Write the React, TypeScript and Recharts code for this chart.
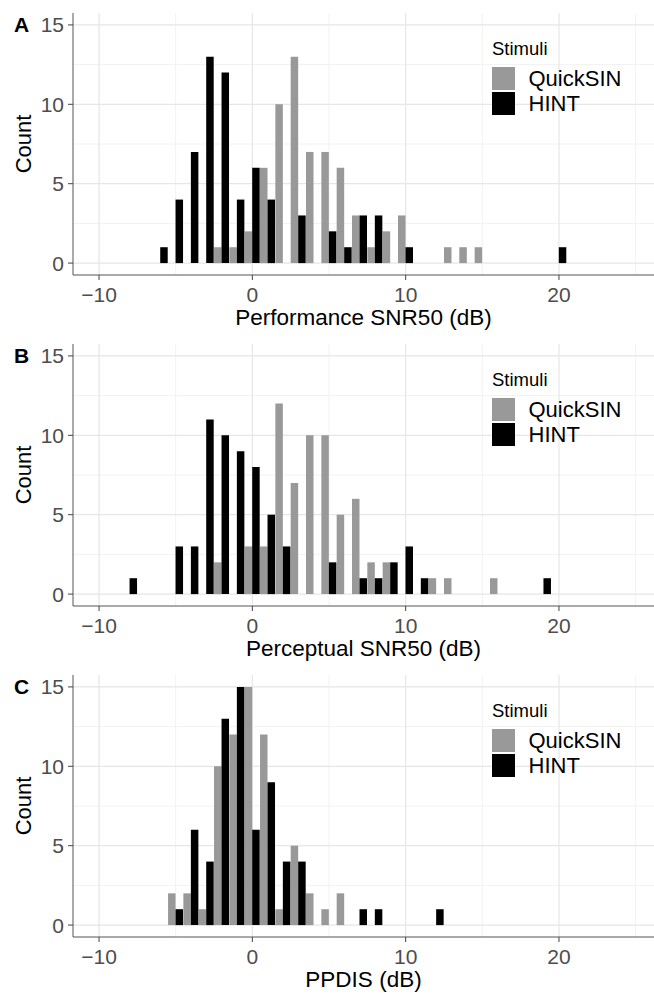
import { BarChart, Bar, XAxis, YAxis, CartesianGrid, Legend } from 'recharts';

// bin centres (width 1 dB)
const bins = [-8, -7, -6, -5, -4, -3, -2, -1, 0, 1, 2, 3, 4, 5, 6, 7, 8, 9, 10, 11, 12, 13, 14, 15, 16, 17, 18, 19, 20];

const perfQuick = [0, 0, 0, 0, 0, 0, 1, 1, 2, 6, 10, 13, 7, 7, 6, 3, 1, 2, 3, 0, 0, 1, 1, 1, 0, 0, 0, 0, 0];
const perfHint = [0, 0, 1, 4, 7, 13, 12, 4, 6, 4, 0, 3, 0, 2, 1, 3, 3, 0, 1, 0, 0, 0, 0, 0, 0, 0, 0, 0, 1];

const percQuick = [0, 0, 0, 0, 0, 0, 2, 0, 3, 3, 12, 7, 10, 10, 5, 6, 2, 2, 0, 0, 1, 1, 0, 0, 1, 0, 0, 0, 0];
const percHint = [1, 0, 0, 3, 3, 11, 10, 9, 8, 5, 3, 0, 0, 2, 0, 1, 1, 2, 3, 1, 0, 0, 0, 0, 0, 0, 0, 1, 0];

const ppdisQuick = [0, 0, 0, 2, 2, 1, 10, 12, 15, 12, 1, 5, 2, 1, 2, 0, 0, 0, 0, 0, 0, 0, 0, 0, 0, 0, 0, 0, 0];
const ppdisHint = [0, 0, 0, 1, 6, 4, 13, 15, 6, 9, 4, 4, 0, 0, 0, 1, 1, 0, 0, 0, 1, 0, 0, 0, 0, 0, 0, 0, 0];

const xTicks = [-10, 0, 10, 20];
const xMinor = [-5, 5, 15, 25];
const yTicks = [0, 5, 10, 15];
const yMinor = [2.5, 7.5, 12.5];

const panels = [
  { tag: 'A', title: 'Performance SNR50 (dB)', quick: perfQuick, hint: perfHint },
  { tag: 'B', title: 'Perceptual SNR50 (dB)', quick: percQuick, hint: percHint },
  { tag: 'C', title: 'PPDIS (dB)', quick: ppdisQuick, hint: ppdisHint },
];

const GRAY = '#999999';
const fmt = (v: number) => (v < 0 ? '\u2212' + Math.abs(v) : String(v));

function StimuliLegend() {
  return (
    <svg width={140} height={80} style={{ display: 'block' }}>
      <text x={2} y={17} fontSize={18.5} fill="#000">Stimuli</text>
      <rect x={2} y={29} width={23} height={23} fill={GRAY} />
      <rect x={2} y={54} width={23} height={23} fill="#000" />
      <text x={38.5} y={48.4} fontSize={22} fill="#000">QuickSIN</text>
      <text x={38.5} y={73.4} fontSize={22} fill="#000">HINT</text>
    </svg>
  );
}

function Panel({ tag, title, quick, hint }: { tag: string; title: string; quick: number[]; hint: number[] }) {
  const data = bins.map((b, i) => ({ bin: b, QuickSIN: quick[i], HINT: hint[i] }));
  return (
    <div style={{ position: 'relative', width: 654, height: 331 }}>
      <BarChart width={654} height={331} data={data} margin={{ top: 13, right: 0, bottom: 0, left: 0 }} barGap={0}>
        <CartesianGrid verticalValues={xMinor} horizontalValues={yMinor} stroke="#f2f2f2" strokeWidth={1} />
        <CartesianGrid verticalValues={xTicks} horizontalValues={yTicks} stroke="#e6e6e6" strokeWidth={1.2} />
        <XAxis
          dataKey="bin"
          type="number"
          domain={[-11.7, 26.2]}
          ticks={xTicks}
          allowDataOverflow
          height={56}
          tickSize={5}
          tickMargin={7}
          tickFormatter={fmt}
          tick={{ fontSize: 21, fill: '#4d4d4d' }}
          axisLine={{ stroke: '#555' }}
          tickLine={{ stroke: '#444' }}
          label={{ value: title, position: 'insideBottom', offset: 6, fontSize: 22.5, fill: '#000' }}
        />
        <XAxis xAxisId="top" orientation="top" height={0} tick={false} tickLine={false} axisLine={{ stroke: '#a0a0a0' }} />
        <YAxis
          type="number"
          domain={[-0.75, 15.75]}
          ticks={yTicks}
          allowDataOverflow
          width={73}
          tickSize={5}
          tickMargin={4}
          tick={{ fontSize: 21, fill: '#4d4d4d' }}
          axisLine={{ stroke: '#555' }}
          tickLine={{ stroke: '#444' }}
          label={{ value: 'Count', angle: -90, position: 'insideLeft', offset: 23, fontSize: 22, fill: '#000', style: { textAnchor: 'middle' } }}
        />
        <Legend
          layout="horizontal"
          verticalAlign="middle"
          align="center"
          content={() => <StimuliLegend />}
          wrapperStyle={{ left: 490, top: 38, width: 140, height: 80 }}
        />
        <Bar dataKey="QuickSIN" fill={GRAY} barSize={7.5} isAnimationActive={false} />
        <Bar dataKey="HINT" fill="#000" barSize={7.5} isAnimationActive={false} />
      </BarChart>
      <svg width={40} height={40} style={{ position: 'absolute', left: 0, top: 0 }}>
        <text x={14} y={31.7} fontSize={21} fontWeight="bold" fill="#000">{tag}</text>
      </svg>
    </div>
  );
}

export default function App() {
  return (
    <div
      style={{
        position: 'absolute',
        left: 0,
        top: 0,
        width: 654,
        height: 994,
        overflow: 'hidden',
        background: '#fff',
        fontFamily: '"Liberation Sans", Arial, sans-serif',
      }}
    >
      {panels.map((p) => (
        <Panel key={p.tag} {...p} />
      ))}
    </div>
  );
}
